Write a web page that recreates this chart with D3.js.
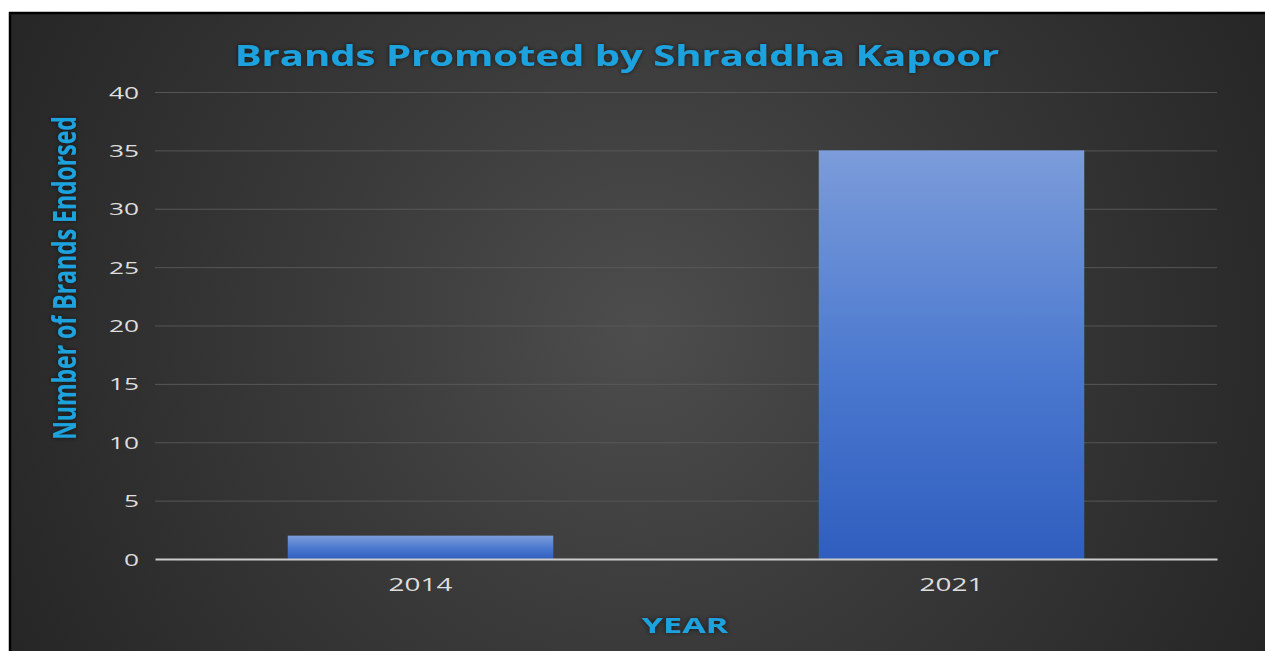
<!DOCTYPE html>
<html>
<head>
<meta charset="utf-8">
<script src="https://cdn.jsdelivr.net/npm/d3@7"></script>
<style>
  html, body { margin: 0; padding: 0; background: #ffffff; }
  svg { display: block; }
</style>
</head>
<body>
<svg id="chart" width="1265" height="651"></svg>
<script>
// Data
const years = ["2014", "2021"];
const brandsEndorsed = [2, 35];
const yTicks = [0, 5, 10, 15, 20, 25, 30, 35, 40];

const chartTitle = "Brands Promoted by Shraddha Kapoor";
const xTitle = "YEAR";
const yTitle = "Number of Brands Endorsed";

const W = 1265, H = 651;
const FONT = "'Open Sans', 'DejaVu Sans', sans-serif";
const WIDE = 1.55;   // horizontal stretch applied to all lettering

const svg = d3.select("#chart");
const defs = svg.append("defs");

// Dark panel with a soft radial highlight in the middle
const bg = defs.append("radialGradient").attr("id", "bgGrad")
  .attr("gradientUnits", "userSpaceOnUse")
  .attr("cx", 640).attr("cy", 330).attr("r", 700);
bg.append("stop").attr("offset", "0%").attr("stop-color", "#4d4d4d");
bg.append("stop").attr("offset", "45%").attr("stop-color", "#3a3a3a");
bg.append("stop").attr("offset", "100%").attr("stop-color", "#262626");

// Bar fill: lighter blue at the top, deeper blue at the base
const barGrad = defs.append("linearGradient").attr("id", "barGrad")
  .attr("x1", 0).attr("y1", 0).attr("x2", 0).attr("y2", 1);
barGrad.append("stop").attr("offset", "0%").attr("stop-color", "#7c9cda");
barGrad.append("stop").attr("offset", "55%").attr("stop-color", "#4a78cf");
barGrad.append("stop").attr("offset", "100%").attr("stop-color", "#2f5ebf");

const glow = defs.append("filter").attr("id", "textGlow")
  .attr("x", "-10%").attr("y", "-30%").attr("width", "120%").attr("height", "160%");
glow.append("feDropShadow").attr("dx", 0).attr("dy", 0)
  .attr("stdDeviation", 2).attr("flood-color", "#000").attr("flood-opacity", 0.6);

// Panel and its black frame
svg.append("rect").attr("x", 10).attr("y", 13).attr("width", W - 10).attr("height", H - 13)
  .attr("fill", "url(#bgGrad)");
svg.append("line").attr("x1", 10).attr("x2", 10).attr("y1", 12).attr("y2", H)
  .attr("stroke", "#000").attr("stroke-width", 2.5);
svg.append("line").attr("x1", 9).attr("x2", W).attr("y1", 13).attr("y2", 13)
  .attr("stroke", "#000").attr("stroke-width", 2.5);

// Plot area
const plot = { left: 155, right: 1217, top: 92, bottom: 559 };

const x = d3.scaleBand()
  .domain(years)
  .range([plot.left, plot.right])
  .paddingInner(0.5)
  .paddingOuter(0.25);

const y = d3.scaleLinear()
  .domain([0, 40])
  .range([plot.bottom, plot.top]);

// Horizontal gridlines and value labels
const yAxis = d3.axisLeft(y)
  .tickValues(yTicks)
  .tickSize(-(plot.right - plot.left));

const gy = svg.append("g")
  .attr("transform", `translate(${plot.left},0)`)
  .call(yAxis);
gy.select(".domain").remove();
gy.selectAll(".tick line")
  .attr("stroke", "#5a5a5a")
  .attr("stroke-width", 1)
  .attr("stroke-opacity", d => d === 0 ? 0 : 0.9);
gy.selectAll(".tick text")
  .attr("x", 0)
  .attr("dy", "0.36em")
  .attr("transform", `translate(-16,0) scale(${WIDE},1)`)
  .attr("text-anchor", "end")
  .attr("fill", "#dedede")
  .attr("font-family", FONT)
  .attr("font-size", 17);

// Bars
svg.append("g").selectAll("rect")
  .data(years.map((yr, i) => ({ year: yr, value: brandsEndorsed[i] })))
  .join("rect")
  .attr("x", d => x(d.year))
  .attr("y", d => y(d.value))
  .attr("width", x.bandwidth())
  .attr("height", d => y(0) - y(d.value))
  .attr("fill", "url(#barGrad)");

// Category axis
const xAxis = d3.axisBottom(x).tickSize(0);
const gx = svg.append("g")
  .attr("transform", `translate(0,${plot.bottom})`)
  .call(xAxis);
gx.select(".domain")
  .attr("stroke", "#cccccc")
  .attr("stroke-width", 2);
gx.selectAll(".tick text")
  .attr("y", 32)
  .attr("dy", 0)
  .attr("transform", `scale(${WIDE},1)`)
  .attr("fill", "#dedede")
  .attr("font-family", FONT)
  .attr("font-size", 18);

// Titles
svg.append("text")
  .attr("transform", `translate(617,66) scale(1.43,1)`)
  .attr("text-anchor", "middle")
  .attr("fill", "#1fa3df")
  .attr("font-family", FONT)
  .attr("font-weight", "bold")
  .attr("font-size", 28)
  .attr("filter", "url(#textGlow)")
  .text(chartTitle);

svg.append("text")
  .attr("transform", `translate(685,633) scale(${WIDE},1)`)
  .attr("text-anchor", "middle")
  .attr("fill", "#1fa3df")
  .attr("font-family", FONT)
  .attr("font-weight", "bold")
  .attr("font-size", 22)
  .attr("filter", "url(#textGlow)")
  .text(xTitle);

svg.append("text")
  .attr("transform", `translate(76,278) scale(1.4,1) rotate(-90)`)
  .attr("text-anchor", "middle")
  .attr("fill", "#1fa3df")
  .attr("font-family", FONT)
  .attr("font-weight", "bold")
  .attr("font-size", 23)
  .attr("filter", "url(#textGlow)")
  .text(yTitle);
</script>
</body>
</html>
